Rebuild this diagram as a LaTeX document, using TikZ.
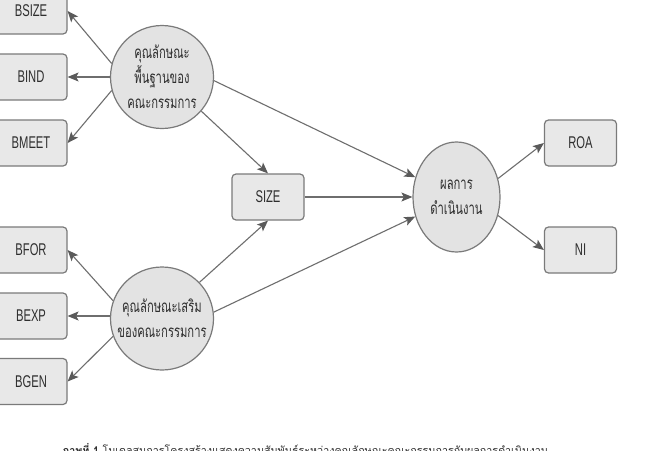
\documentclass[tikz,border=0pt]{standalone}
\usepackage{fontspec}
\setmainfont{Liberation Sans}[FakeStretch=0.66]
\newfontfamily\thai[Script=Thai,FakeStretch=0.66]{Loma}
\newfontfamily\thaicap[Script=Thai]{Loma}
\usetikzlibrary{arrows.meta,shapes.geometric}
\definecolor{linegray}{HTML}{6E6E6E}
\definecolor{tipgray}{HTML}{5A5A5A}
\definecolor{boxfill}{HTML}{E8E8E8}
\definecolor{boxline}{HTML}{7A7A7A}
\definecolor{circfill}{HTML}{E3E3E3}
\definecolor{txt}{HTML}{2E2E2E}
\tikzset{
  varbox/.style={draw=boxline, line width=1.2pt, fill=boxfill, rounded corners=4pt,
    minimum width=72pt, minimum height=46pt, inner sep=0pt, text=txt,
    font=\fontsize{17pt}{19pt}\selectfont},
  latent/.style={draw=boxline, line width=1.2pt, fill=circfill, circle,
    minimum size=103pt, inner sep=0pt, align=center, text=txt,
    font=\thai\fontsize{17pt}{25pt}\selectfont},
  latentell/.style={draw=boxline, line width=1.2pt, fill=circfill, ellipse,
    minimum width=87pt, minimum height=110pt, inner sep=0pt, align=center, text=txt,
    font=\thai\fontsize{17pt}{25pt}\selectfont},
  arr/.style={draw=linegray, line width=1.1pt,
    -{Stealth[length=11pt,width=9pt,inset=2.5pt,color=tipgray]}},
}
\begin{document}
\begin{tikzpicture}[x=1pt,y=-1pt]
\useasboundingbox (0,0) rectangle (650,450);
\clip (0,0) rectangle (650,450);
\fill[white] (0,0) rectangle (650,450);
% boxes left
\node[varbox] (BSIZE) at (31,11) {BSIZE};
\node[varbox] (BIND)  at (31,77) {BIND};
\node[varbox] (BMEET) at (31,143) {BMEET};
\node[varbox] (BFOR)  at (31,250) {BFOR};
\node[varbox] (BEXP)  at (31,316) {BEXP};
\node[varbox] (BGEN)  at (31,381.5) {BGEN};
% latent variables
\node[latent] (c1) at (162,77) {คุณลักษณะ\\พื้นฐานของ\\คณะกรรมการ};
\node[latent] (c2) at (162,318.5) {คุณลักษณะเสริม\\ของคณะกรรมการ};
\node[varbox] (SIZE) at (268,197) {SIZE};
\node[latentell] (perf) at (456.5,197) {ผลการ\\ดำเนินงาน};
\node[varbox] (ROA) at (580.5,143) {ROA};
\node[varbox] (NI)  at (580.5,250) {NI};
% arrows
\draw[arr] (c1.165) -- (BSIZE.east);
\draw[arr] (c1.west) -- (BIND.east);
\draw[arr] (c1.195) -- (BMEET.east);
\draw[arr] (c2.160) -- (BFOR.east);
\draw[arr] (c2.west |- BEXP.east) -- (BEXP.east);
\draw[arr] (c2.200) -- (BGEN.east);
\draw[arr] (c1.-41) -- (SIZE.north);
\draw[arr] (c2.44) -- (SIZE.south);
\draw[arr] (c1.-4) -- (perf);
\draw[arr] (c2.7) -- (perf);
\draw[arr] (SIZE) -- (perf);
\draw[arr] (perf.24) -- (ROA.west);
\draw[arr] (perf.-24) -- (NI.west);
% caption (cut off at the lower edge, as in the reference)
\node[anchor=north west, inner sep=0pt, text=txt] (cap) at (62,443.5)
  {\resizebox{486pt}{!}{\thaicap\fontsize{13pt}{15pt}\selectfont\textbf{ภาพที่ 1} โมเดลสมการโครงสร้างแสดงความสัมพันธ์ระหว่างคุณลักษณะคณะกรรมการกับผลการดำเนินงาน}};
\end{tikzpicture}
\end{document}
